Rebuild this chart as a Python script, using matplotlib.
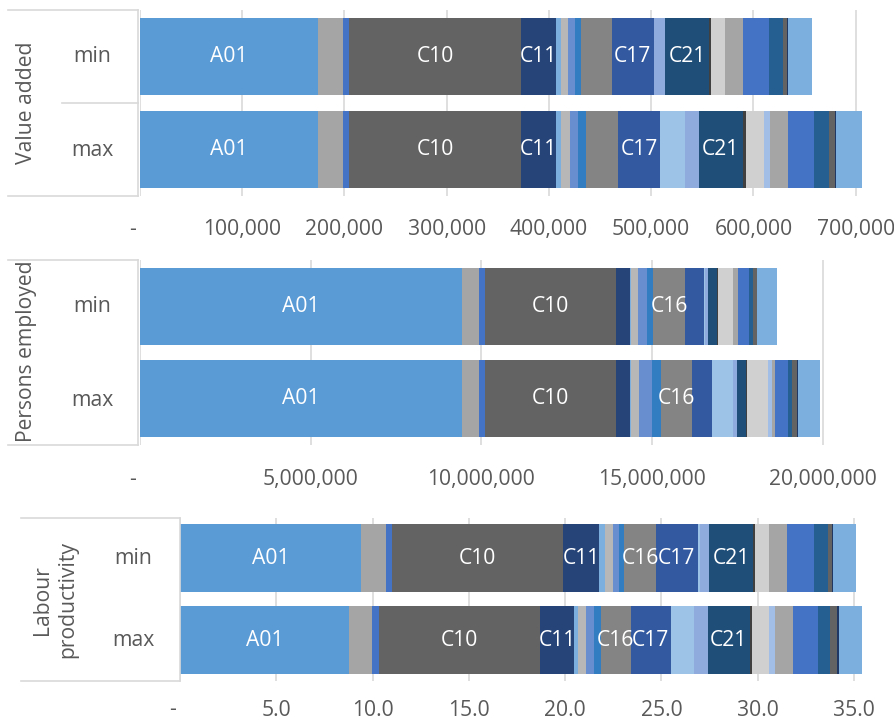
import numpy as np
import matplotlib.pyplot as plt
from matplotlib.lines import Line2D

plt.rcParams['font.family'] = ['Open Sans', 'DejaVu Sans']

W, H = 895, 722

# industry segments, stacked left to right
codes = ['A01', 'A02', 'A03', 'C10', 'C11', 'C12', 'C13', 'C14', 'C15', 'C16',
         'C17', 'C18', 'C20', 'C21', 'C22', 'C23', 'C31', 'C32', 'D35', 'E36',
         'E37', 'E38', 'E39']
colors = ['#5B9BD5', '#A5A5A5', '#4472C4', '#636363', '#264478', '#7CAFDD',
          '#B7B7B7', '#698ED0', '#327DC2', '#848484', '#335AA1', '#9DC3E6',
          '#8FAADC', '#1F4E79', '#404040', '#D0D0D0', '#A2BDE6', '#A5A5A5',
          '#4472C4', '#255E91', '#636363', '#203864', '#7CAFDD']
rows = ['min', 'max']

va_min = [173900, 25000, 5900, 167700, 34600, 4900, 7100, 6500, 5600, 30000,
          41100, 900, 10500, 43000, 1600, 14000, 0, 17400, 26000, 13700,
          3900, 300, 23600]
va_max = [173900, 25000, 5900, 167700, 34600, 4900, 8800, 7200, 8400, 31000,
          41400, 24500, 13000, 43000, 3300, 18000, 5900, 17600, 24700, 14700,
          6600, 900, 25200]

pe_min = [9431700, 506700, 167000, 3837100, 410100, 29300, 196200, 281200,
          175700, 928500, 556500, 29300, 96700, 263600, 20500, 448200, 0,
          128900, 339800, 117200, 99600, 8800, 594600]
pe_max = [9431700, 506700, 167000, 3837100, 410100, 29300, 225500, 389600,
          263600, 899200, 594600, 606300, 117200, 272400, 38100, 615100, 99600,
          96700, 372000, 134700, 146500, 29300, 635600]

lp_min = [9.38, 1.32, 0.29, 8.91, 1.87, 0.30, 0.43, 0.29, 0.28, 1.64, 2.17,
          0.10, 0.50, 2.29, 0.10, 0.73, 0.0, 0.92, 1.38, 0.76, 0.21, 0.03, 1.20]
lp_max = [8.79, 1.19, 0.34, 8.37, 1.78, 0.19, 0.42, 0.41, 0.38, 1.53, 2.09,
          1.20, 0.71, 2.19, 0.11, 0.88, 0.31, 0.92, 1.30, 0.64, 0.35, 0.12, 1.17]

va_ticks = [0, 100000, 200000, 300000, 400000, 500000, 600000, 700000]
pe_ticks = [0, 5000000, 10000000, 15000000, 20000000]
lp_ticks = [0, 5, 10, 15, 20, 25, 30, 35]

text_col = '#595959'
line_col = '#D9D9D9'
fs = 15.2


def fx(x):
    return x / W


def fy(y):
    return 1 - y / H


def fig_line(x0, y0, x1, y1):
    fig.add_artist(Line2D([fx(x0), fx(x1)], [fy(y0), fy(y1)],
                          transform=fig.transFigure, color=line_col, lw=1.2))


def fig_text(x, y, s, **kw):
    fig.text(fx(x), fy(y), s, ha='center', va='center', color=text_col,
             fontsize=fs, **kw)


fig = plt.figure(figsize=(W / 100, H / 100), dpi=100)

panels = [
    dict(name='Value added', data=[va_min, va_max], ticks=va_ticks,
         fmt=lambda v: '{:,.0f}'.format(v), x0=140, top=10, bottom=196,
         ppu=102.24 / 100000, shown={'A01', 'C10', 'C11', 'C17', 'C21'},
         pad=34),
    dict(name='Persons employed', data=[pe_min, pe_max], ticks=pe_ticks,
         fmt=lambda v: '{:,.0f}'.format(v), x0=140, top=260, bottom=445,
         ppu=170.7 / 5000000, shown={'A01', 'C10', 'C16'}, pad=34),
    dict(name='Labour\nproductivity', data=[lp_min, lp_max], ticks=lp_ticks,
         fmt=lambda v: '{:.1f}'.format(v), x0=180, top=517.5, bottom=681,
         ppu=96.29 / 5, shown={'A01', 'C10', 'C11', 'C16', 'C17', 'C21'},
         pad=29),
]

x_right = 872
for p in panels:
    ax = fig.add_axes([fx(p['x0']), fy(p['bottom']), fx(x_right - p['x0']),
                       (p['bottom'] - p['top']) / H])
    ax.set_xlim(0, (x_right - p['x0']) / p['ppu'])
    ax.set_ylim(1.5, -0.5)
    vals = np.array(p['data'], dtype=float)
    left = np.zeros(len(rows))
    for i, code in enumerate(codes):
        w = vals[:, i]
        ax.barh([0, 1], w, left=left, height=0.83, color=colors[i], lw=0)
        if code in p['shown']:
            for r in range(len(rows)):
                ax.text(left[r] + w[r] / 2, r, code, ha='center', va='center',
                        color='white', fontsize=fs)
        left = left + w

    ax.set_xticks(p['ticks'])
    ax.set_yticks([])
    ax.grid(axis='x', color=line_col, lw=1.2)
    ax.set_axisbelow(True)
    ax.tick_params(length=0, labelbottom=False)
    for s in ax.spines.values():
        s.set_visible(False)
    for t in p['ticks']:
        s = '-' if t == 0 else p['fmt'](t)
        dx = -7 if t == 0 else 0
        ax.annotate(s, xy=(t, 0), xycoords=('data', 'axes fraction'),
                    xytext=(dx * 0.72, -p['pad'] * 0.72),
                    textcoords='offset points', ha='center', va='center',
                    color=text_col, fontsize=fs)

# category boxes on the left
fig_line(8, 10, 138, 10)
fig_line(8, 196, 138, 196)
fig_line(138, 10, 138, 196)
fig_line(62, 103, 138, 103)
fig_text(27, 103, 'Value added', rotation=90)
fig_text(92, 57, 'min')
fig_text(92, 150, 'max')

fig_line(8, 260, 138, 260)
fig_line(8, 445, 138, 445)
fig_line(138, 260, 138, 445)
fig_text(27, 351, 'Persons employed', rotation=90)
fig_text(92, 306.5, 'min')
fig_text(92, 400, 'max')

fig_line(20.7, 517.5, 180, 517.5)
fig_line(20.7, 681, 180, 681)
fig_line(180, 517.5, 180, 681)
fig_text(55, 600, 'Labour\nproductivity', rotation=90, multialignment='center',
         linespacing=1.3)
fig_text(133, 559, 'min')
fig_text(133, 640, 'max')

fig.savefig('out.png', dpi=100)
